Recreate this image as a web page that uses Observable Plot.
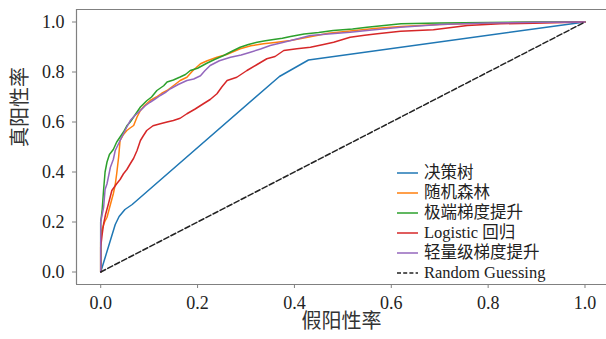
<!DOCTYPE html>
<html><head><meta charset="utf-8">
<script src="https://cdn.jsdelivr.net/npm/d3@7"></script>
<script src="https://cdn.jsdelivr.net/npm/@observablehq/plot@0.6"></script>
<style>
html,body{margin:0;padding:0;background:#fff;overflow:hidden}
#wrap{position:relative;width:606px;height:339px}
#legend{position:absolute;left:397px;top:163px;font-family:"Liberation Serif","Times New Roman",Times,"Nimbus Roman","DejaVu Serif","Noto Sans CJK SC",serif;font-size:16.5px;color:#222;line-height:20px}
.row{display:flex;align-items:center;height:20px;white-space:nowrap}
.row svg{margin-right:6px;display:block}
</style></head><body><div id="wrap"></div>
<script>
const models = ["决策树", "随机森林", "极端梯度提升", "Logistic 回归", "轻量级梯度提升"];
const colors = ["#1f77b4", "#ff7f0e", "#2ca02c", "#d62728", "#9467bd"];
const guessLabel = "Random Guessing";
const xLabel = "假阳性率";
const yLabel = "真阳性率";
const tickValues = [0, 0.2, 0.4, 0.6, 0.8, 1.0];

const dtFpr = [0, 0.03, 0.038, 0.05, 0.065, 0.369, 0.429, 1];
const dtTpr = [0, 0.19, 0.222, 0.25, 0.27, 0.782, 0.848, 1];

const rfFpr = [0, 0, 0.002, 0.008, 0.013, 0.02, 0.026, 0.03, 0.033, 0.037, 0.04, 0.047, 0.054, 0.06, 0.068, 0.075, 0.082, 0.09, 0.102, 0.115, 0.126, 0.137, 0.15, 0.164, 0.178, 0.19, 0.206, 0.22, 0.24, 0.26, 0.288, 0.31, 0.336, 0.36, 0.392, 0.43, 0.47, 0.52, 0.57, 0.62, 0.7, 0.8, 0.9, 1];
const rfTpr = [0, 0.12, 0.166, 0.2, 0.219, 0.27, 0.313, 0.35, 0.393, 0.46, 0.526, 0.55, 0.566, 0.575, 0.586, 0.62, 0.646, 0.665, 0.686, 0.70, 0.715, 0.726, 0.745, 0.766, 0.779, 0.805, 0.833, 0.845, 0.859, 0.87, 0.893, 0.905, 0.913, 0.918, 0.926, 0.94, 0.955, 0.965, 0.975, 0.982, 0.99, 0.996, 0.999, 1];

const xgbFpr = [0, 0, 0.003, 0.006, 0.009, 0.013, 0.018, 0.026, 0.033, 0.040, 0.047, 0.054, 0.061, 0.068, 0.075, 0.082, 0.095, 0.105, 0.116, 0.13, 0.137, 0.15, 0.164, 0.175, 0.185, 0.2, 0.219, 0.235, 0.254, 0.27, 0.288, 0.305, 0.323, 0.34, 0.357, 0.375, 0.392, 0.42, 0.45, 0.48, 0.52, 0.55, 0.59, 0.62, 0.7, 0.8, 0.9, 1];
const xgbTpr = [0, 0.2, 0.25, 0.33, 0.4, 0.44, 0.47, 0.49, 0.52, 0.54, 0.56, 0.585, 0.60, 0.62, 0.64, 0.66, 0.685, 0.70, 0.726, 0.745, 0.76, 0.768, 0.78, 0.79, 0.806, 0.815, 0.835, 0.85, 0.866, 0.882, 0.899, 0.91, 0.919, 0.925, 0.93, 0.935, 0.942, 0.952, 0.958, 0.966, 0.972, 0.979, 0.987, 0.993, 0.996, 0.998, 1, 1];

const lrFpr = [0, 0, 0.003, 0.006, 0.01, 0.016, 0.023, 0.033, 0.04, 0.047, 0.054, 0.061, 0.068, 0.075, 0.082, 0.088, 0.095, 0.108, 0.123, 0.137, 0.15, 0.164, 0.178, 0.195, 0.212, 0.226, 0.24, 0.25, 0.261, 0.281, 0.302, 0.323, 0.343, 0.36, 0.378, 0.405, 0.433, 0.46, 0.481, 0.515, 0.545, 0.571, 0.619, 0.687, 0.757, 0.825, 0.894, 1];
const lrTpr = [0, 0.1, 0.15, 0.193, 0.23, 0.273, 0.326, 0.353, 0.37, 0.393, 0.41, 0.433, 0.455, 0.486, 0.526, 0.545, 0.566, 0.585, 0.593, 0.6, 0.606, 0.615, 0.633, 0.652, 0.673, 0.69, 0.713, 0.74, 0.766, 0.779, 0.806, 0.83, 0.853, 0.862, 0.886, 0.893, 0.899, 0.91, 0.919, 0.939, 0.947, 0.953, 0.963, 0.969, 0.986, 0.993, 0.995, 1];

const lgbFpr = [0, 0, 0.003, 0.006, 0.009, 0.013, 0.02, 0.026, 0.03, 0.04, 0.05, 0.061, 0.07, 0.082, 0.092, 0.102, 0.113, 0.123, 0.135, 0.144, 0.16, 0.178, 0.192, 0.206, 0.215, 0.226, 0.245, 0.268, 0.29, 0.309, 0.33, 0.35, 0.378, 0.405, 0.433, 0.47, 0.515, 0.56, 0.619, 0.7, 0.8, 0.9, 1];
const lgbTpr = [0, 0.2, 0.23, 0.259, 0.33, 0.353, 0.419, 0.45, 0.486, 0.526, 0.565, 0.606, 0.625, 0.646, 0.665, 0.679, 0.693, 0.706, 0.72, 0.733, 0.75, 0.766, 0.772, 0.785, 0.805, 0.826, 0.845, 0.859, 0.868, 0.879, 0.892, 0.906, 0.919, 0.932, 0.946, 0.952, 0.959, 0.968, 0.979, 0.99, 0.996, 0.999, 1];

const guessFpr = [0, 1];
const guessTpr = [0, 1];

const series = [[dtFpr, dtTpr], [rfFpr, rfTpr], [xgbFpr, xgbTpr], [lrFpr, lrTpr], [lgbFpr, lgbTpr]];
const tables = series.map(([f, t], i) => f.map((v, j) => ({model: models[i], fpr: v, tpr: t[j]})));
const guess = guessFpr.map((v, j) => ({fpr: v, tpr: guessTpr[j]}));

const serifStack = "'Liberation Serif', 'Times New Roman', Times, 'Nimbus Roman', 'DejaVu Serif', serif";
const spine = "#808080";
const chart = Plot.plot({
  width: 606, height: 339,
  marginLeft: 76, marginRight: 0, marginTop: 9, marginBottom: 55,
  style: {fontFamily: serifStack, background: "#fff"},
  x: {domain: [-0.05, 1.0444]},
  y: {domain: [-0.05, 1.05]},
  marks: [
    Plot.ruleY([-0.05, 1.05], {stroke: spine, strokeWidth: 1.2}),
    Plot.ruleX([-0.05], {stroke: spine, strokeWidth: 1.2}),
    Plot.axisX({ticks: tickValues, tickFormat: d3.format(".1f"), tickSize: 4, tickPadding: 8, fontSize: 18, stroke: spine, fill: "#222", label: null, fontFamily: serifStack}),
    Plot.axisY({ticks: tickValues, tickFormat: d3.format(".1f"), tickSize: 4, tickPadding: 8, fontSize: 18, stroke: spine, fill: "#222", label: null, fontFamily: serifStack}),
    ...tables.map((t, i) => Plot.line(t, {x: "fpr", y: "tpr", stroke: colors[i], strokeWidth: 1.5})),
    Plot.line(guess, {x: "fpr", y: "tpr", stroke: "#222", strokeWidth: 1.5, strokeDasharray: "5.5,2.4"}),
    Plot.text([xLabel], {frameAnchor: "bottom", dy: 43, fontSize: 20, fill: "#333", fontFamily: "'Noto Sans CJK SC'"}),
    Plot.text([yLabel], {frameAnchor: "left", dx: -56, rotate: -90, fontSize: 20, fill: "#333", fontFamily: "'Noto Sans CJK SC'"})
  ]
});
const wrap = document.getElementById("wrap");
wrap.appendChild(chart);

const legend = document.createElement("div");
legend.id = "legend";
const entries = models.map((m, i) => ({label: m, color: colors[i], dash: null}))
  .concat([{label: guessLabel, color: "#222", dash: "4,2.2"}]);
for (const e of entries) {
  const row = document.createElement("div");
  row.className = "row";
  row.innerHTML = `<svg width="21" height="4"><line x1="0" y1="2" x2="21" y2="2" stroke="${e.color}" stroke-width="1.5" ${e.dash ? `stroke-dasharray="${e.dash}"` : ""}/></svg><span>${e.label}</span>`;
  legend.appendChild(row);
}
wrap.appendChild(legend);
</script></body></html>
